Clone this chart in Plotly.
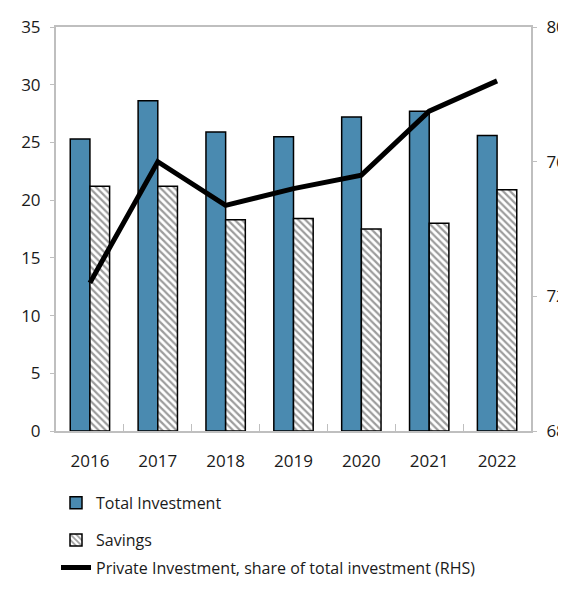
import plotly.graph_objects as go

# Data
years = ["2016", "2017", "2018", "2019", "2020", "2021", "2022"]
total_investment = [25.3, 28.6, 25.9, 25.5, 27.2, 27.7, 25.6]
savings = [21.2, 21.2, 18.3, 18.4, 17.5, 18.0, 20.9]
private_share = [72.4, 76.0, 74.7, 75.2, 75.6, 77.5, 78.4]

blue = "#4a8ab0"
grey = "#bfbfbf"
font = "Open Sans, Noto Sans, sans-serif"

fig = go.Figure()

fig.add_trace(
    go.Bar(
        x=years,
        y=total_investment,
        name="Total Investment",
        marker=dict(color=blue, line=dict(color="black", width=1.5)),
        legend="legend",
    )
)
fig.add_trace(
    go.Bar(
        x=years,
        y=savings,
        name="Savings",
        marker=dict(
            color="white",
            line=dict(color="black", width=1.5),
            pattern=dict(shape="\\", fgcolor="#3a3a3a", bgcolor="white", size=5, solidity=0.45),
        ),
        legend="legend2",
    )
)
fig.add_trace(
    go.Scatter(
        x=years,
        y=private_share,
        name="Private Investment, share of total investment (RHS)",
        mode="lines",
        line=dict(color="black", width=5),
        yaxis="y2",
        legend="legend3",
    )
)


# one legend per row so the rows can be spaced like the original
def leg(y):
    return dict(
        x=0,
        y=y,
        xanchor="left",
        yanchor="middle",
        font=dict(size=16),
        itemwidth=30,
        bgcolor="rgba(0,0,0,0)",
    )


# a figure the full window size gets shifted by the page, so keep it 8px smaller
fig.update_layout(
    width=558,
    height=588,
    margin=dict(l=48, r=35, t=19, b=154),
    paper_bgcolor="white",
    plot_bgcolor="white",
    font=dict(family=font, size=17, color="#1a1a1a"),
    barmode="group",
    bargap=0.42,
    bargroupgap=0,
    showlegend=True,
    legend=leg(-0.178),
    legend2=leg(-0.27),
    legend3=leg(-0.338),
    xaxis=dict(
        showline=True,
        linecolor=grey,
        linewidth=2,
        mirror=True,
        ticks="inside",
        tickson="boundaries",
        ticklen=7,
        tickcolor=grey,
        showgrid=False,
        automargin=False,
        ticklabelstandoff=14,
    ),
    yaxis=dict(
        range=[0, 35],
        dtick=5,
        showline=True,
        linecolor=grey,
        linewidth=2,
        ticks="outside",
        ticklen=4,
        tickcolor=grey,
        showgrid=False,
        zeroline=False,
        automargin=False,
        ticklabelstandoff=6,
        ticklabeloverflow="allow",
    ),
    yaxis2=dict(
        range=[68, 80],
        dtick=4,
        overlaying="y",
        side="right",
        showline=True,
        linecolor=grey,
        linewidth=2,
        ticks="outside",
        ticklen=4,
        tickcolor=grey,
        showgrid=False,
        zeroline=False,
        automargin=False,
        ticklabelstandoff=6,
        ticklabeloverflow="allow",
    ),
)

fig.write_html("out.html")
